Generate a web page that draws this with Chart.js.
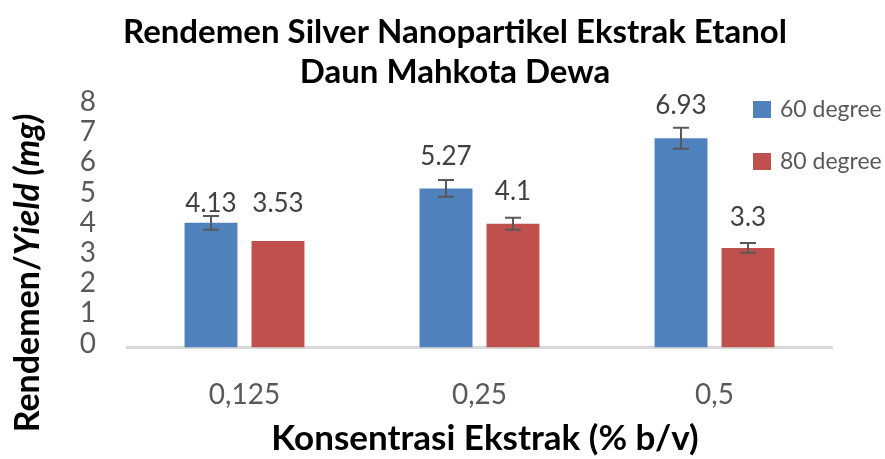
<!DOCTYPE html>
<html>
<head>
<meta charset="utf-8">
<script src="https://cdn.jsdelivr.net/npm/chart.js@4.4.1/dist/chart.umd.min.js"></script>
<style>
  html, body { margin: 0; padding: 0; background: #fff; }
  #wrap { width: 885px; height: 459px; }
</style>
</head>
<body>
<div id="wrap"><canvas id="rendemen" width="885" height="459"></canvas></div>
<script>
// data
const konsentrasi = ['0,125', '0,25', '0,5'];
const seriesNames = ['60 degree', '80 degree'];
const yield60 = [4.13, 5.27, 6.93];
const yield80 = [3.53, 4.1, 3.3];
const err60 = [0.23, 0.28, 0.35];
const err80 = [0, 0.2, 0.16];
const yTicks = [0, 1, 2, 3, 4, 5, 6, 7, 8];
const titleLines = ['Rendemen Silver Nanopartikel Ekstrak Etanol', 'Daun Mahkota Dewa'];
const xTitle = 'Konsentrasi Ekstrak (% b/v)';

const fontName = 'Lato, "Open Sans", sans-serif';
const errs = [err60, err80];
// how far above the bar top each value label sits (first group was nudged in the original)
const labelLift = [[19, 32, 33], [37, 32, 30]];

const barExtras = {
    id: 'barExtras',
    afterDatasetsDraw(chart) {
        const ctx = chart.ctx;
        const y = chart.scales.y;
        chart.data.datasets.forEach((ds, di) => {
            const meta = chart.getDatasetMeta(di);
            meta.data.forEach((bar, i) => {
                const v = ds.data[i];
                const e = errs[di][i];
                ctx.save();
                if (e > 0) {
                    const top = y.getPixelForValue(v + e);
                    const bot = y.getPixelForValue(v - e);
                    ctx.strokeStyle = '#595959';
                    ctx.lineWidth = 2;
                    ctx.beginPath();
                    ctx.moveTo(bar.x, top); ctx.lineTo(bar.x, bot);
                    ctx.moveTo(bar.x - 8, top); ctx.lineTo(bar.x + 8, top);
                    ctx.moveTo(bar.x - 8, bot); ctx.lineTo(bar.x + 8, bot);
                    ctx.stroke();
                }
                ctx.fillStyle = '#404040';
                ctx.font = '26px ' + fontName;
                ctx.textAlign = 'center';
                ctx.textBaseline = 'middle';
                ctx.fillText(String(v), bar.x, bar.y - labelLift[di][i]);
                ctx.restore();
            });
        });
    },
    afterDraw(chart) {
        const ctx = chart.ctx;
        ctx.save();
        // chart title
        ctx.fillStyle = '#000';
        ctx.font = 'bold 33px ' + fontName;
        ctx.textAlign = 'center';
        ctx.textBaseline = 'middle';
        titleLines.forEach((t, i) => ctx.fillText(t, 455, 32 + i * 40));
        // x axis title
        ctx.font = 'bold 35px ' + fontName;
        ctx.fillText(xTitle, 485, 439);
        // legend
        chart.data.datasets.forEach((ds, di) => {
            const ly = 101 + di * 52;
            ctx.fillStyle = ds.backgroundColor;
            ctx.fillRect(753, ly, 18, 17);
            ctx.fillStyle = '#595959';
            ctx.font = '23px ' + fontName;
            ctx.textAlign = 'left';
            ctx.textBaseline = 'middle';
            ctx.fillText(ds.label, 780, ly + 9);
        });
        // y axis title, part italic
        ctx.translate(28, 273);
        ctx.rotate(-Math.PI / 2);
        ctx.fillStyle = '#000';
        ctx.textBaseline = 'middle';
        const a = 'Rendemen/';
        const b = 'Yield (mg)';
        ctx.font = 'bold 34px ' + fontName;
        const wa = ctx.measureText(a).width;
        ctx.font = 'italic bold 34px ' + fontName;
        const wb = ctx.measureText(b).width;
        const x0 = -(wa + wb) / 2;
        ctx.textAlign = 'left';
        ctx.font = 'bold 34px ' + fontName;
        ctx.fillText(a, x0, 0);
        ctx.font = 'italic bold 34px ' + fontName;
        ctx.fillText(b, x0 + wa, 0);
        ctx.restore();
    }
};

const ctx = document.getElementById('rendemen').getContext('2d');
const chart = new Chart(ctx, {
    type: 'bar',
    data: {
        labels: konsentrasi,
        datasets: [{
            label: seriesNames[0],
            data: yield60,
            backgroundColor: '#4F81BD',
            categoryPercentage: 0.57,
            barPercentage: 0.79
        }, {
            label: seriesNames[1],
            data: yield80,
            backgroundColor: '#C0504D',
            categoryPercentage: 0.57,
            barPercentage: 0.79
        }]
    },
    options: {
        responsive: false,
        animation: false,
        layout: { padding: { left: 0, right: 53, top: 106, bottom: 0 } },
        plugins: {
            legend: { display: false },
            tooltip: { enabled: false },
            title: { display: false }
        },
        scales: {
            x: {
                grid: { display: false, drawTicks: false },
                border: { color: '#d9d9d9', width: 3 },
                ticks: { color: '#595959', font: { family: fontName, size: 28 }, padding: 31 },
                afterFit(s) { s.height = 111.5; }
            },
            y: {
                min: 0,
                max: 8,
                grid: { display: false, drawTicks: false },
                border: { display: false },
                afterBuildTicks(s) { s.ticks = yTicks.map(v => ({ value: v })); },
                ticks: { color: '#595959', font: { family: fontName, size: 28 }, padding: 31, autoSkip: false, labelOffset: -4 },
                afterFit(s) { s.width = 127; }
            }
        }
    },
    plugins: [barExtras]
});
</script>
</body>
</html>
